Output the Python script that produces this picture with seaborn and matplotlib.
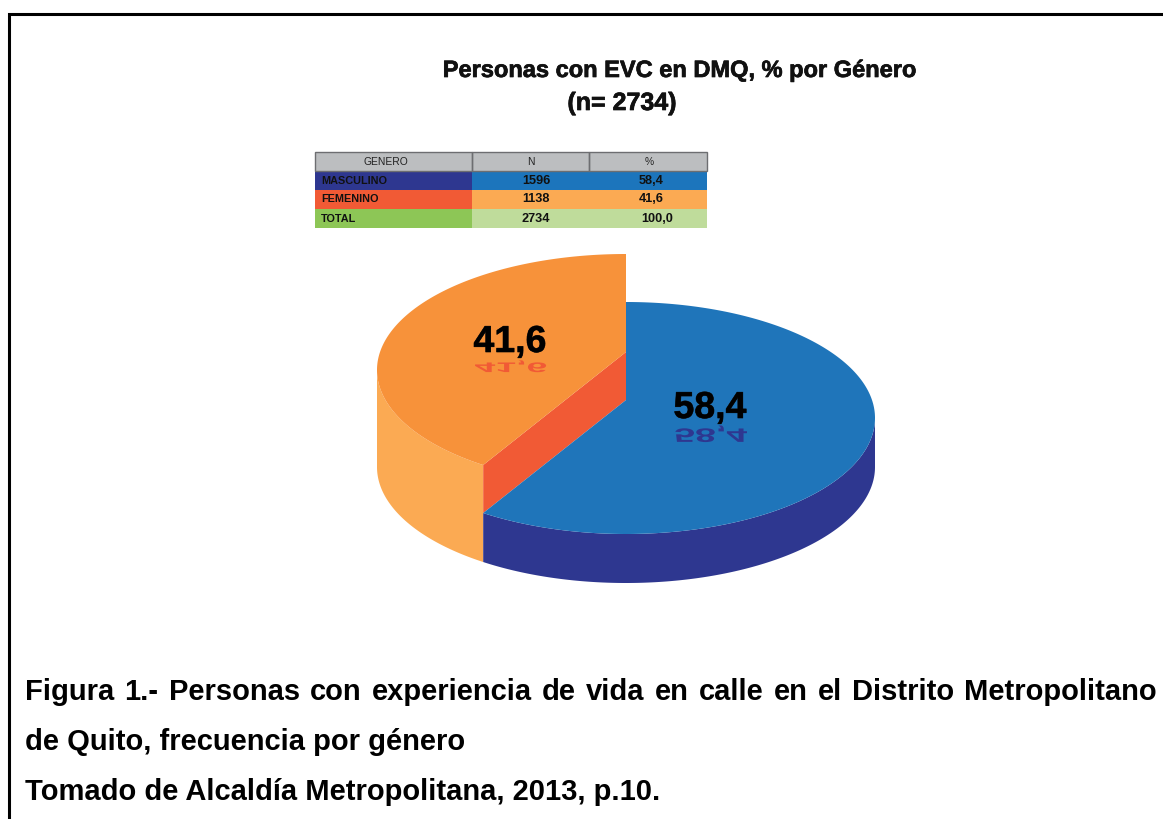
import numpy as np
import matplotlib
matplotlib.use("Agg")
import matplotlib.pyplot as plt
import seaborn as sns
import matplotlib.patheffects as pe
from matplotlib.textpath import TextPath
from matplotlib.font_manager import FontProperties
from matplotlib.patches import PathPatch, Rectangle
from matplotlib.transforms import Affine2D

# ---- data -------------------------------------------------------------
title_lines = ["Personas con EVC en DMQ, % por Género", "(n= 2734)"]
table_header = ["GENERO", "N", "%"]
table_rows = ["MASCULINO", "FEMENINO", "TOTAL"]
table_n = ["1596", "1138", "2734"]
table_pct = ["58,4", "41,6", "100,0"]
pct_values = [58.4, 41.6]
pct_labels = ["58,4", "41,6"]
caption_lines = [
    "Figura 1.- Personas con experiencia de vida en calle en el Distrito Metropolitano",
    "de Quito, frecuencia por género",
    "Tomado de Alcaldía Metropolitana, 2013, p.10.",
]

sns.set_theme(style="white")
W, H = 1163, 819
fig = plt.figure(figsize=(W / 100, H / 100), dpi=100, facecolor="white")
ax = fig.add_axes([0, 0, 1, 1])
ax.set_xlim(0, W)
ax.set_ylim(H, 0)
ax.axis("off")

SANS = ["Liberation Sans", "DejaVu Sans"]
heavy = [pe.withStroke(linewidth=0.5, foreground="#111111")]

# frame: only the top and left rules fall inside the crop
ax.plot([8.5, 8.5, W], [H, 13.5, 13.5], color="black", lw=2.2,
        solid_joinstyle="miter", zorder=1)

# title
ax.text(680, 77, title_lines[0], family=SANS, weight="bold", fontsize=17,
        ha="center", va="baseline", color="#111111", path_effects=heavy)
ax.text(622, 110, title_lines[1], family=SANS, weight="bold", fontsize=18,
        ha="center", va="baseline", color="#111111", path_effects=heavy)

# table
col_x = [315, 472, 589, 707]
row_y = [152, 171, 190, 209, 228]
row_cols = [
    ["#bcbec0", "#bcbec0", "#bcbec0"],
    ["#2e3790", "#1c75bc", "#1c75bc"],
    ["#f15a35", "#fbaa53", "#fbaa53"],
    ["#8dc656", "#bfdc9b", "#bfdc9b"],
]
for r in range(4):
    for c in range(3):
        ax.add_patch(Rectangle((col_x[c], row_y[r]), col_x[c + 1] - col_x[c],
                               row_y[r + 1] - row_y[r], facecolor=row_cols[r][c],
                               edgecolor="none", zorder=2))
for c in range(3):
    ax.add_patch(Rectangle((col_x[c], row_y[0]), col_x[c + 1] - col_x[c],
                           row_y[1] - row_y[0], fill=False, edgecolor="#6d6e71",
                           lw=1.0, zorder=3))
for xc, lab in zip([386, 531, 649], table_header):
    ax.text(xc, 162, lab, family=SANS, fontsize=7.4, ha="center",
            va="center", color="#222222", zorder=4)
pct_x = [651, 651, 657]
for r in range(3):
    yc = (row_y[r + 1] + row_y[r + 2]) / 2
    ax.text(321, yc, table_rows[r], family=SANS, weight="bold", fontsize=7.8,
            ha="left", va="center", color="#111111", zorder=4)
    ax.text(536, yc, table_n[r], family=SANS, weight="bold", fontsize=9.2,
            ha="center", va="center", color="#111111", zorder=4)
    ax.text(pct_x[r], yc, table_pct[r], family=SANS, weight="bold", fontsize=9.2,
            ha="center", va="center", color="#111111", zorder=4)

# pie geometry
cx, a, b = 626, 249, 116
cy_blue, cy_orange, cy_floor = 418, 370, 467
apex_lift = 18
persp = 1.0226  # perspective stretch of the printed sweep
blue_sweep = np.deg2rad(pct_values[0] / sum(pct_values) * 360 * persp)
pal = {"blue": "#1f75ba", "navy": "#2e3790", "orange": "#f7923a",
       "lorange": "#fbaa53", "red": "#f15a35"}


def arc(t0, t1, cy):
    t = np.linspace(t0, t1, 300)
    return cx + a * np.sin(t), cy - b * np.cos(t)


# orange outer wall, down to the floor
x1, y1 = arc(blue_sweep, 3 * np.pi / 2, cy_orange)
x2, y2 = arc(3 * np.pi / 2, blue_sweep, cy_floor)
ax.fill(np.r_[x1, x2], np.r_[y1, y2], color=pal["lorange"], lw=0, zorder=5)

# orange cut face
xe, ye = arc(blue_sweep, blue_sweep, cy_orange)
ax.fill([cx, cx, xe[0], xe[0]],
        [cy_orange - apex_lift, cy_blue - apex_lift, ye[0] + cy_blue - cy_orange, ye[0]],
        color=pal["red"], lw=0, zorder=5)

# orange top
x3, y3 = arc(blue_sweep, 2 * np.pi, cy_orange)
ax.fill(np.r_[cx, x3], np.r_[cy_orange - apex_lift, y3], color=pal["orange"], lw=0, zorder=6)

# blue wall
x4, y4 = arc(np.pi / 2, blue_sweep, cy_blue)
x5, y5 = arc(blue_sweep, np.pi / 2, cy_floor)
ax.fill(np.r_[x4, x5], np.r_[y4, y5], color=pal["navy"], lw=0, zorder=7)

# blue top
x6, y6 = arc(0, blue_sweep, cy_blue)
ax.fill(np.r_[cx, x6], np.r_[cy_blue - apex_lift, y6], color=pal["blue"], lw=0, zorder=8)

# value labels with squashed mirror images
BOLD = FontProperties(family="Liberation Sans", weight="bold")
label_pos = [(710, 418), (510, 352)]
mirror = [(428.5, 14 / 27, pal["navy"]), (362.5, 10 / 27, pal["red"])]
for lab, (lx, ly), (my, ms, mc) in zip(pct_labels, label_pos, mirror):
    ax.text(lx, ly, lab, family=SANS, weight="bold", fontsize=27, ha="center",
            va="baseline", color="black", zorder=10, path_effects=heavy)
    tp = TextPath((0, 0), lab, size=37.5, prop=BOLD)
    w = tp.get_extents().width
    tr = Affine2D().translate(-w / 2, 0).scale(1, ms).translate(lx, my)
    ax.add_patch(PathPatch(tr.transform_path(tp), facecolor=mc, edgecolor="none", zorder=9))

# caption: first line is justified, the others are set ragged
CAP = dict(family=SANS, weight="bold", fontsize=21, ha="left", va="baseline",
           color="black", zorder=10)
left, right = 25, 1157
renderer = fig.canvas.get_renderer()
words = caption_lines[0].split(" ")
artists = [ax.text(left, 700, wd, **CAP) for wd in words]
widths = [t.get_window_extent(renderer).width for t in artists]
gap = (right - left - sum(widths)) / (len(words) - 1)
xpos = left
for t, wd in zip(artists, widths):
    t.set_x(xpos)
    xpos += wd + gap
for txt, y in zip(caption_lines[1:], [750, 800]):
    ax.text(left, y, txt, **CAP)

fig.savefig("out.png", dpi=100, facecolor="white")
